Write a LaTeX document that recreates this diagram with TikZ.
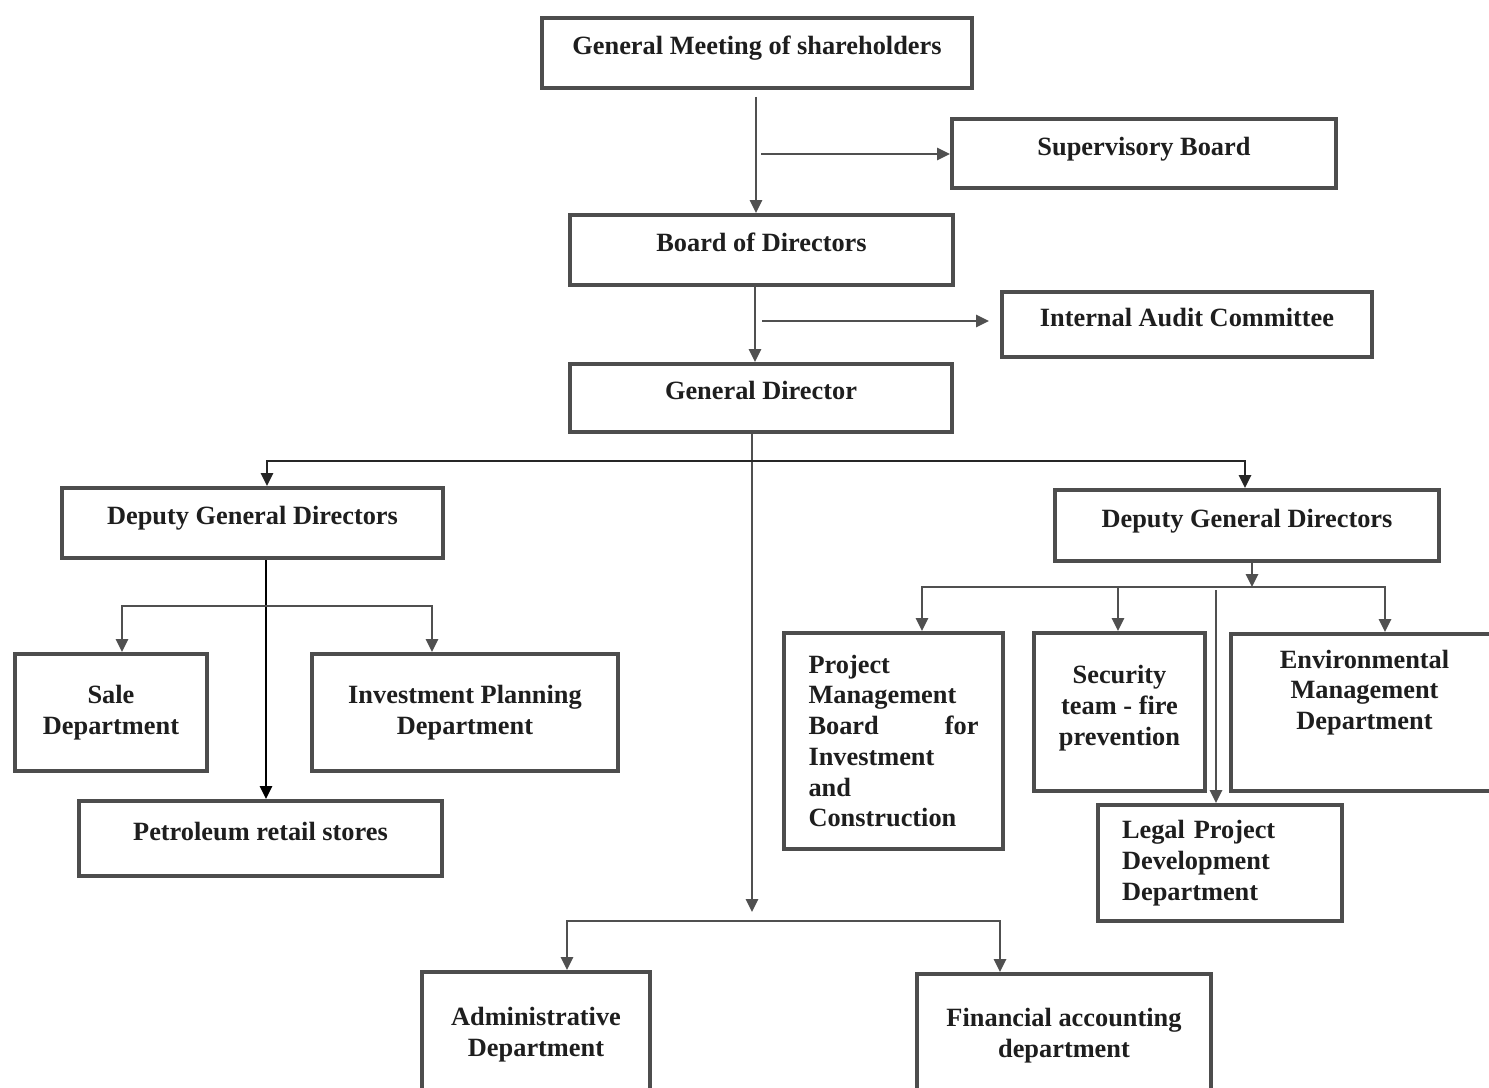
\documentclass[tikz,border=0pt]{standalone}
\usepackage{fontspec}
\setmainfont{Liberation Serif}
\usetikzlibrary{arrows.meta}
\definecolor{boxc}{HTML}{4D4D4D}
\definecolor{linec}{HTML}{505050}
\definecolor{txtc}{HTML}{1E1E1E}
\begin{document}
\begin{tikzpicture}[x=0.02cm,y=-0.02cm,
  box/.style={draw=boxc, line width=0.08cm, fill=white, rectangle, inner sep=2pt, align=center, text=txtc, font=\bfseries\fontsize{15pt}{17.5pt}\selectfont},
  sz/.style 2 args={minimum width={#1*0.02cm}, minimum height={#2*0.02cm}},
  one/.style={text height=10pt, text depth=7.8pt},
  con/.style={draw=linec, line width=1pt},
  arr/.style={con, -{Triangle[length=0.26cm,width=0.25cm]}},
  arrtwo/.style={con, {Triangle[length=0.26cm,width=0.25cm]}-{Triangle[length=0.26cm,width=0.25cm]}}
]
\useasboundingbox (0,0) rectangle (1489,1088);
\fill[white] (0,0) rectangle (1489,1088);

% boxes
\node[box,one,sz={430}{70}] (gm) at (757,53) {General Meeting of shareholders};
\node[box,one,sz={384}{69}] (sb) at (1144,153.5) {Supervisory Board};
\node[box,one,sz={383}{70}] (bod) at (761.5,250) {Board of Directors};
\node[box,one,sz={370}{65}] (iac) at (1187,324.5) {Internal Audit Committee};
\node[box,one,sz={382}{68}] (gd) at (761,398) {General Director};
\node[box,one,sz={381}{70}] (dgl) at (252.5,523) {Deputy General Directors};
\node[box,one,sz={384}{71}] (dgr) at (1247,525.5) {Deputy General Directors};
\node[box,sz={192}{117}] (sale) at (111,712.5) {Sale\\Department};
\node[box,sz={306}{117}] (ipd) at (465,712.5) {Investment Planning\\Department};
\node[box,one,sz={363}{75}] (prs) at (260.5,838.5) {Petroleum retail stores};
\node[box,sz={219}{216},align=left,text width=3.4cm,inner xsep=0.48cm] (pmb) at (893.5,741) {Project\\Management\\Board\hfill for\\Investment\\and\\Construction};
\node[box,sz={171}{158},text depth=7.8pt] (stf) at (1119.5,712) {Security\\team - fire\\prevention};
\node[box,sz={267}{157},text depth=26pt] (emd) at (1364.5,712.5) {Environmental\\Management\\Department};
\node[box,sz={244}{116},align=left,text width=3.92cm,inner xsep=0.48cm] (lpd) at (1220,863) {Legal Project\\Development\\Department};
\node[box,sz={228}{126}] (adm) at (536,1035) {Administrative\\Department};
\node[box,sz={294}{124}] (fin) at (1064,1036) {Financial accounting\\department};

% connectors
\coordinate (p1) at (756,97);
\draw[arr] (p1) -- (p1 |- bod.north);
\coordinate (p2) at (761,154);
\draw[arr] (p2) -- (p2 -| sb.west);
\coordinate (p3) at (755,0);
\draw[arr] (p3 |- bod.south) -- (p3 |- gd.north);
\coordinate (p4) at (762,321);
\draw[arr] (p4) -- ([xshift=-0.22cm]p4 -| iac.west);
\coordinate (p5) at (752,912);
\draw[arr] (p5 |- gd.south) -- (p5);
\coordinate (bl) at (567,921);
\coordinate (br) at (1000,921);
\draw[arrtwo] (bl |- adm.north) -- (bl) -- (br) -- (br |- fin.north);
\coordinate (tl) at (267,461);
\coordinate (tr) at (1245,461);
\draw[arrtwo, draw=black!85] (tl |- dgl.north) -- (tl) -- (tr) -- (tr |- dgr.north);
\coordinate (p6) at (266,0);
\draw[arr, draw=black] (p6 |- dgl.south) -- (p6 |- prs.north);
\coordinate (ll) at (122,606);
\coordinate (lr) at (432,606);
\draw[arrtwo] (ll |- sale.north) -- (ll) -- (lr) -- (lr |- ipd.north);
\coordinate (p7) at (1252,587);
\draw[arr] (p7 |- dgr.south) -- (p7);
\coordinate (rl) at (922,587);
\coordinate (rr) at (1385,587);
\draw[arrtwo] (rl |- pmb.north) -- (rl) -- (rr) -- (rr |- emd.north);
\coordinate (rm) at (1118,587);
\draw[arr] (rm) -- (rm |- stf.north);
\coordinate (p8) at (1216,590);
\draw[arr] (p8) -- (p8 |- lpd.north);
\end{tikzpicture}
\end{document}
